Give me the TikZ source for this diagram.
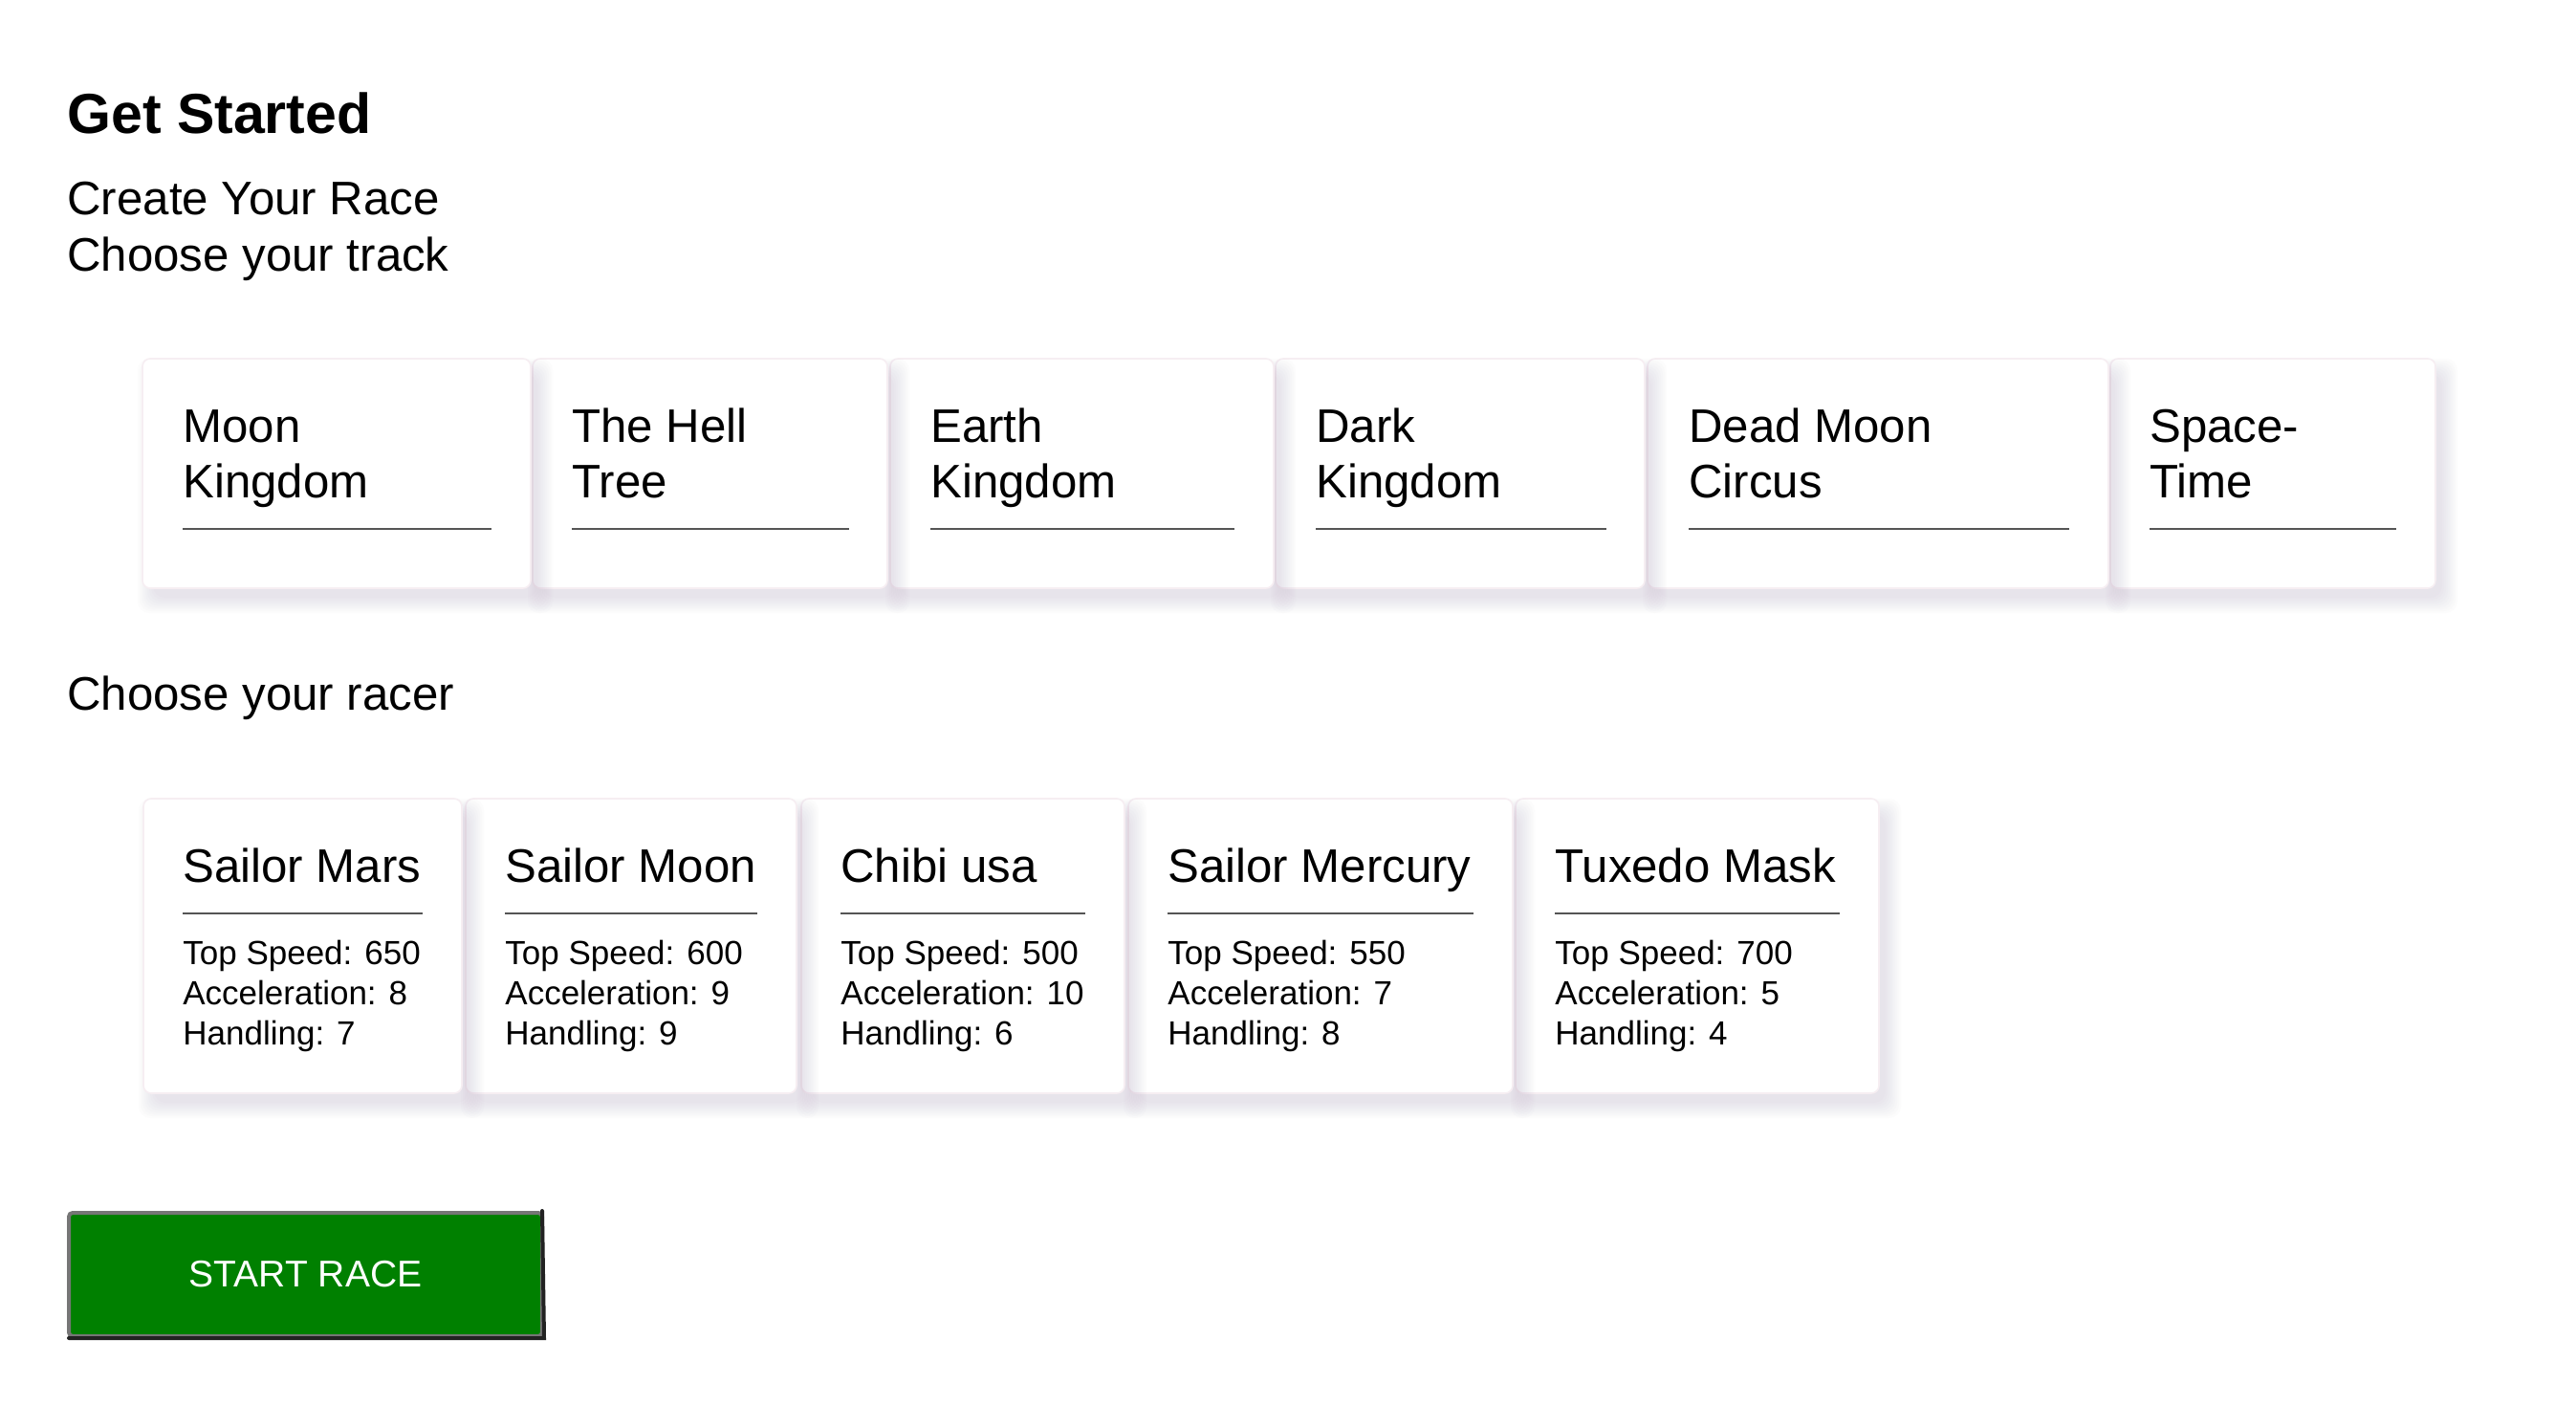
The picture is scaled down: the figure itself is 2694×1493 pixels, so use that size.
\documentclass[tikz,border=0pt]{standalone}
\usepackage{fontspec}
\setmainfont{Liberation Sans}
\definecolor{cardline}{HTML}{555555}
\definecolor{cardedge}{HTML}{F6EEF2}
\definecolor{shadowc}{HTML}{9A88A6}
\definecolor{btngreen}{HTML}{008000}
\definecolor{btnlight}{HTML}{767676}
\definecolor{btndark}{HTML}{222222}
\newcommand{\cardshadow}[4]{%
  \foreach \e in {-2,0,...,14}{%
    \fill[shadowc, opacity=0.024, rounded corners=6pt]
      (#1+9-\e,#2+14-\e) rectangle (#3+9+\e,#4+12+\e);
  }%
}
% name, left, right, text left, underline right, line 1, line 2
\newcommand{\trackcard}[7]{%
  \cardshadow{#2}{375}{#3}{615}%
  \pgfmathsetlengthmacro\cw{(#3-#2)*0.5pt}%
  \node[card, minimum width=\cw, minimum height=120pt] (#1) at (#2,375) {};
  \node[head] (#1-a) at (#4,462) {#6};
  \node[head] (#1-b) at (#4,520) {#7};
  \coordinate (#1-l) at (#4,553);
  \coordinate (#1-r) at (#5,553);
  \draw[uline] (#1-l) -- (#1-r);
}
\newcommand{\racercard}[7]{%
  \cardshadow{#2}{835}{#3}{1143}%
  \pgfmathsetlengthmacro\cw{(#3-#2)*0.5pt}%
  \node[card, minimum width=\cw, minimum height=154pt] (#1) at (#2,835) {};
  \node[head] (#1-t) at (#2+41,922) {#4};
  \coordinate (#1-l) at (#2+41,955);
  \coordinate (#1-r) at (#3-41,955);
  \draw[uline] (#1-l) -- (#1-r);
  \node[stat] (#1-s) at (#2+41,1008) {Top Speed: #5};
  \node[stat] (#1-c) at (#2+41,1050) {Acceleration: #6};
  \node[stat] (#1-h) at (#2+41,1092) {Handling: #7};
}
\begin{document}
\begin{tikzpicture}[x=0.5pt,y=-0.5pt,
  card/.style={draw=cardedge, line width=0.8pt, fill=white, rounded corners=4pt,
    anchor=north west, inner sep=0pt, outer sep=0pt},
  head/.style={anchor=base west, inner sep=0pt, font=\fontsize{24.6}{29.4}\selectfont},
  stat/.style={anchor=base west, inner sep=0pt, font=\fontsize{17.5}{21}\selectfont},
  title/.style={anchor=base west, inner sep=0pt, font=\fontsize{29.5}{35}\selectfont\bfseries},
  uline/.style={draw=cardline, line width=1pt},
  btn/.style={fill=btngreen, draw=btnlight, line width=2pt, rounded corners=2pt,
    anchor=north west, inner sep=0pt, text=white, font=\fontsize{19.5}{23}\selectfont}
]
\useasboundingbox (0,0) rectangle (2694,1493);
\fill[white] (0,0) rectangle (2694,1493);

\node[title] (gs) at (70,140) {Get Started};
\node[head] (cyr) at (70,224) {Create Your Race};
\node[head] (cyt) at (70,283) {Choose your track};

% drawn right to left so that each card's shadow falls on its right neighbour
\trackcard{t6}{2207}{2547}{2248}{2506}{Space-}{Time}
\trackcard{t5}{1723}{2205}{1766}{2164}{Dead Moon}{Circus}
\trackcard{t4}{1334}{1720}{1376}{1680}{Dark}{Kingdom}
\trackcard{t3}{931}{1332}{973}{1291}{Earth}{Kingdom}
\trackcard{t2}{557}{928}{598}{888}{The Hell}{Tree}
\trackcard{t1}{149}{555}{191}{514}{Moon}{Kingdom}

\node[head] (cyrc) at (70,742) {Choose your racer};

\racercard{r5}{1585}{1965}{Tuxedo Mask}{700}{5}{4}
\racercard{r4}{1180}{1582}{Sailor Mercury}{550}{7}{8}
\racercard{r3}{838}{1176}{Chibi usa}{500}{10}{6}
\racercard{r2}{487}{833}{Sailor Moon}{600}{9}{9}
\racercard{r1}{150}{483}{Sailor Mars}{650}{8}{7}

\node[btn, minimum width=247.5pt, minimum height=64.5pt] (start) at (70,1266) {START RACE};
\draw[btndark, line width=2pt, line cap=round]
  ([xshift=-1pt]start.north east) -- (start.south east) -- ([xshift=1pt]start.south west);
\end{tikzpicture}
\end{document}
